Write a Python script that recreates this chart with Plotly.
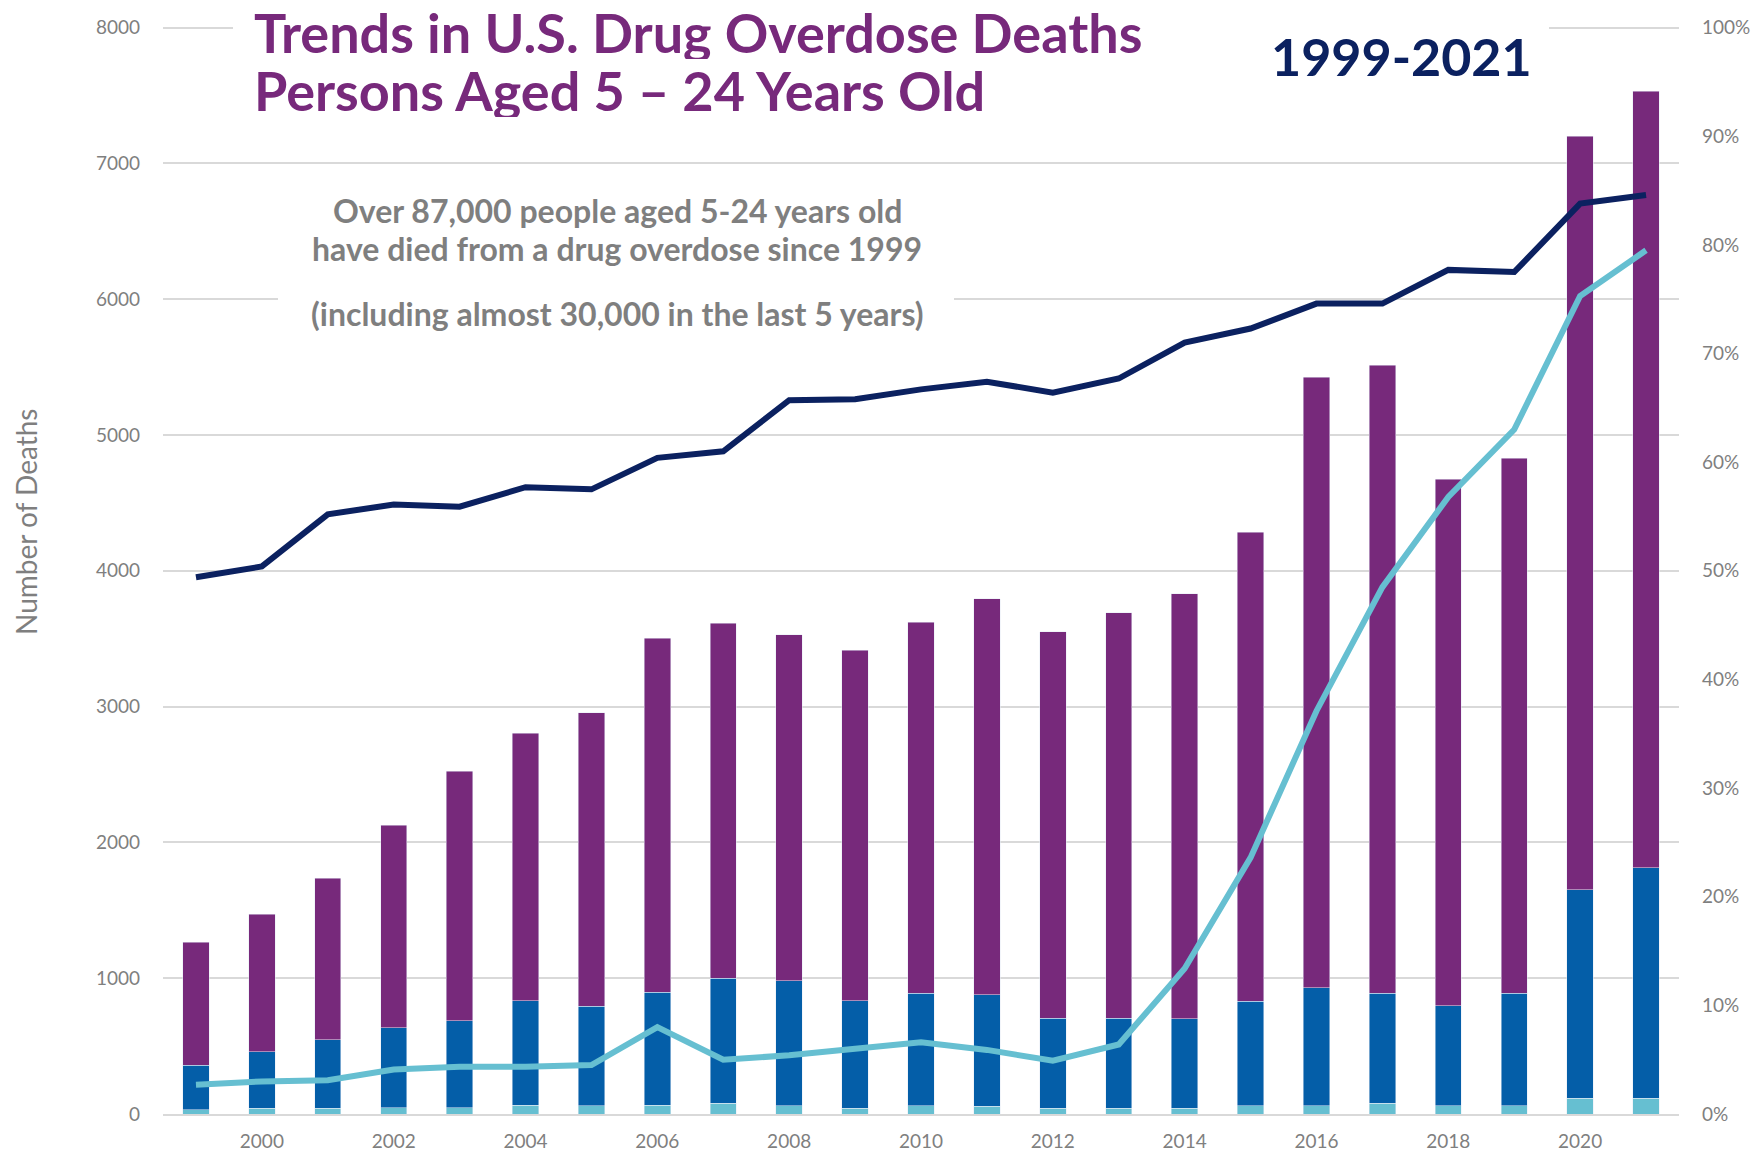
import plotly.graph_objects as go

# ---------------- data ----------------
years = list(range(1999, 2022))

# stacked bar segments (number of deaths)
bottom_segment = [32, 42, 42, 47, 47, 66, 61, 66, 81, 61, 44, 61, 56, 44, 42, 44, 61, 61, 81, 61, 61, 115, 115]
middle_segment = [328, 418, 503, 588, 638, 769, 734, 829, 919, 919, 791, 829, 822, 661, 663, 656, 769, 867, 809, 737, 829, 1535, 1700]
top_segment = [905, 1010, 1190, 1490, 1840, 1970, 2160, 2610, 2615, 2550, 2580, 2730, 2917, 2845, 2985, 3130, 3455, 4497, 4625, 3877, 3940, 5550, 5715]

# lines on the right (percent) axis
navy_line_pct = [49.4, 50.4, 55.2, 56.1, 55.9, 57.7, 57.5, 60.4, 61.0, 65.7, 65.8, 66.7, 67.4, 66.4, 67.7, 71.0, 72.3, 74.6, 74.6, 77.7, 77.5, 83.8, 84.6]
cyan_line_pct = [2.7, 3.0, 3.1, 4.1, 4.35, 4.35, 4.5, 8.0, 5.0, 5.4, 6.0, 6.6, 5.9, 4.9, 6.4, 13.4, 23.6, 37.1, 48.5, 56.8, 63.0, 75.3, 79.5]

x_tick_vals = list(range(2000, 2021, 2))
left_tick_vals = list(range(0, 8001, 1000))
right_tick_vals = [i / 100 for i in range(0, 101, 10)]

title_line1 = "Trends in U.S. Drug Overdose Deaths"
title_line2 = "Persons Aged 5 \u2013 24 Years Old"
period_text = "1999-2021"
note_lines = ["Over 87,000 people aged 5-24 years old",
              "have died from a drug overdose since 1999",
              "(including almost 30,000 in the last 5 years)"]
y_title = "Number of Deaths"

# ---------------- style ----------------
W, H = 1755, 1154
L, R, T, B = 163, 76, 26, 40
PW, PH = W - L - R, H - T - B

PURPLE = "#77297B"
BLUE = "#045EA8"
CYAN = "#66BFD1"
NAVY = "#0B2160"
GRAY = "#7F7F7F"
GRID = "#D9D9D9"
FONT = "Lato"


def px(x):
    return (x - L) / PW


def py(y):
    return (H - B - y) / PH


fig = go.Figure()
fig.add_bar(x=years, y=bottom_segment, name="Bottom segment", marker_color=CYAN, width=0.4)
fig.add_bar(x=years, y=middle_segment, name="Middle segment", marker_color=BLUE, width=0.4)
fig.add_bar(x=years, y=top_segment, name="Top segment", marker_color=PURPLE, width=0.4)
fig.add_scatter(x=years, y=[v / 100 for v in navy_line_pct], yaxis="y2", mode="lines",
                name="Navy line", line=dict(color=NAVY, width=6))
fig.add_scatter(x=years, y=[v / 100 for v in cyan_line_pct], yaxis="y2", mode="lines",
                name="Light blue line", line=dict(color=CYAN, width=6))

tick_font = dict(family=FONT, size=19, color=GRAY)

fig.update_layout(
    width=W, height=H,
    margin=dict(l=L, r=R, t=T, b=B, pad=0),
    paper_bgcolor="white", plot_bgcolor="white",
    barmode="stack", bargap=0.6,
    showlegend=False,
    xaxis=dict(range=[1998.5, 2021.5], tickvals=x_tick_vals, ticktext=[str(v) for v in x_tick_vals],
               showgrid=False, zeroline=False, showline=True, linecolor=GRID, linewidth=2,
               ticks="", tickfont=tick_font, ticklabelstandoff=9, automargin=False),
    yaxis=dict(range=[0, 8012], tickvals=left_tick_vals, showgrid=True, gridcolor=GRID, gridwidth=2,
               zeroline=False, showline=False, ticks="", tickfont=tick_font, ticklabelstandoff=22,
               automargin=False),
    yaxis2=dict(range=[0, 8012 / 8000], overlaying="y", side="right", tickvals=right_tick_vals,
                tickformat=".0%", showgrid=False, zeroline=False, showline=False, ticks="",
                tickfont=tick_font, ticklabelstandoff=22, automargin=False),
)

# white patches that interrupt the grid lines behind the texts
fig.add_shape(type="rect", xref="paper", yref="paper", x0=px(233), x1=px(1549), y0=py(10), y1=py(42),
              fillcolor="white", line_width=0, layer="above")
fig.add_shape(type="rect", xref="paper", yref="paper", x0=px(278), x1=px(954), y0=py(285), y1=py(311),
              fillcolor="white", line_width=0, layer="above")

fig.add_annotation(xref="paper", yref="paper", x=px(252), y=py(32), xanchor="left", yanchor="middle",
                   text=title_line1, showarrow=False, height=54, valign="middle",
                   font=dict(family=FONT, size=54, color=PURPLE, weight="bold"))
fig.add_annotation(xref="paper", yref="paper", x=px(252), y=py(90), xanchor="left", yanchor="middle",
                   text=title_line2, showarrow=False, height=54, valign="middle",
                   font=dict(family=FONT, size=54, color=PURPLE, weight="bold"))
fig.add_annotation(xref="paper", yref="paper", x=px(1401), y=py(56), xanchor="center", yanchor="middle",
                   text=period_text, showarrow=False,
                   font=dict(family=FONT, size=52, color=NAVY, weight="bold"))
for line_text, yy in zip(note_lines, [210, 248, 313]):
    fig.add_annotation(xref="paper", yref="paper", x=px(617), y=py(yy), xanchor="center", yanchor="middle",
                       text=line_text, showarrow=False, height=36, valign="middle",
                       font=dict(family=FONT, size=32, color=GRAY, weight="bold"))
fig.add_annotation(xref="paper", yref="paper", x=px(26), y=py(522), xanchor="center", yanchor="middle",
                   text=y_title, textangle=-90, showarrow=False,
                   font=dict(family=FONT, size=28, color=GRAY))

fig.write_html("out.html")
